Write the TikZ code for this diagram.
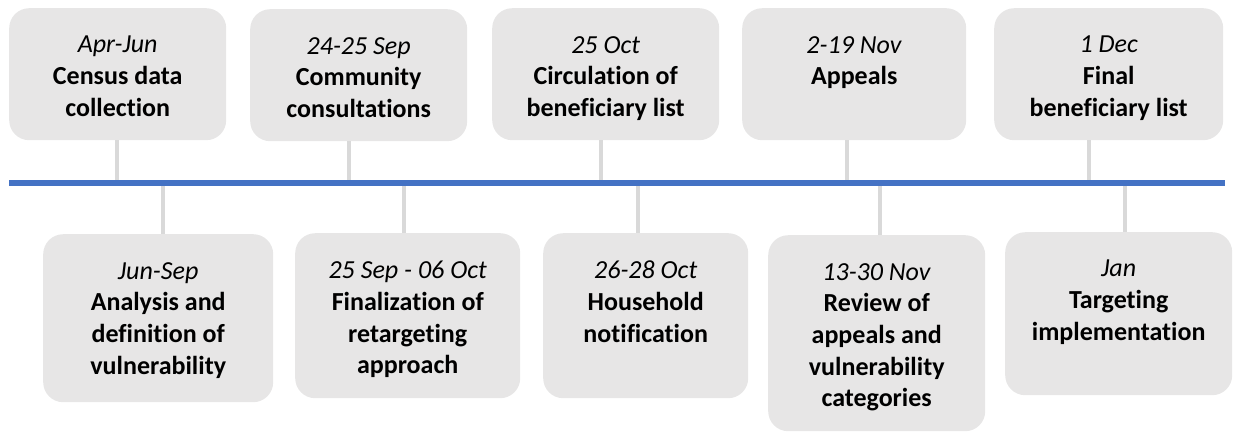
\documentclass[tikz,border=0pt]{standalone}
\usepackage{fontspec}
\setmainfont{Carlito}[Ligatures={NoCommon}]
\definecolor{boxfill}{HTML}{E7E6E6}
\definecolor{stemgray}{HTML}{D9D9D9}
\definecolor{axisblue}{HTML}{4472C4}
\begin{document}
\begin{tikzpicture}[x=1pt,y=-1pt,
  card/.style={fill=boxfill, draw=none, rounded corners=20pt, inner sep=0pt, anchor=north west},
  lbl/.style={anchor=north, inner sep=0pt, align=center, text=black,
              font=\fontsize{26}{31.7}\selectfont},
  stem/.style={draw=stemgray, line width=3.5pt},
  axis/.style={draw=axisblue, line width=6pt}]
\useasboundingbox (0,0) rectangle (1234,432);

% timeline anchor points
\coordinate (ax0) at (9,182.5);
\coordinate (ax1) at (1225,182.5);
\coordinate (t1) at (117,182.5);
\coordinate (t2) at (349,182.5);
\coordinate (t3) at (601,182.5);
\coordinate (t4) at (847,182.5);
\coordinate (t5) at (1089,182.5);
\coordinate (u1) at (163,182.5);
\coordinate (u2) at (404,182.5);
\coordinate (u3) at (638,182.5);
\coordinate (u4) at (880,182.5);
\coordinate (u5) at (1125,182.5);

% upper cards
\node[card, minimum width=217pt, minimum height=132pt] (b1) at (9,8) {};
\node[card, minimum width=217pt, minimum height=132pt] (b2) at (250,9) {};
\node[card, minimum width=227pt, minimum height=132pt] (b3) at (492,8) {};
\node[card, minimum width=224pt, minimum height=132pt] (b4) at (742,8) {};
\node[card, minimum width=229pt, minimum height=132pt] (b5) at (994,8) {};

% lower cards
\node[card, minimum width=230pt, minimum height=168pt] (b6) at (43,234) {};
\node[card, minimum width=225pt, minimum height=165pt] (b7) at (295,233) {};
\node[card, minimum width=205pt, minimum height=165pt] (b8) at (543,233) {};
\node[card, minimum width=217pt, minimum height=196pt] (b9) at (768,235) {};
\node[card, minimum width=227pt, minimum height=163pt] (b10) at (1005,232) {};

% stems
\draw[stem] (b1.south -| t1) -- (t1);
\draw[stem] (b2.south -| t2) -- (t2);
\draw[stem] (b3.south -| t3) -- (t3);
\draw[stem] (b4.south -| t4) -- (t4);
\draw[stem] (b5.south -| t5) -- (t5);
\draw[stem] (u1) -- (b6.north -| u1);
\draw[stem] (u2) -- (b7.north -| u2);
\draw[stem] (u3) -- (b8.north -| u3);
\draw[stem] (u4) -- (b9.north -| u4);
\draw[stem] (u5) -- (b10.north -| u5);

% axis
\draw[axis] (ax0) -- (ax1);

% labels
\node[lbl] (l1) at ([yshift=-28pt]b1.north) {\textit{Apr-Jun}\\\textbf{Census data}\\\textbf{collection}};
\node[lbl] (l2) at ([yshift=-28pt]b2.north) {\textit{24-25 Sep}\\\textbf{Community}\\\textbf{consultations}};
\node[lbl] (l3) at ([yshift=-28pt]b3.north) {\textit{25 Oct}\\\textbf{Circulation of}\\\textbf{beneficiary list}};
\node[lbl] (l4) at ([yshift=-28pt]b4.north) {\textit{2-19 Nov}\\\textbf{Appeals}};
\node[lbl] (l5) at ([yshift=-28pt]b5.north) {\textit{1 Dec}\\\textbf{Final}\\\textbf{beneficiary list}};
\node[lbl] (l6) at ([yshift=-28pt]b6.north) {\textit{Jun-Sep}\\\textbf{Analysis and}\\\textbf{definition of}\\\textbf{vulnerability}};
\node[lbl] (l7) at ([yshift=-28pt]b7.north) {\textit{25 Sep - 06 Oct}\\\textbf{Finalization of}\\\textbf{retargeting}\\\textbf{approach}};
\node[lbl] (l8) at ([yshift=-28pt]b8.north) {\textit{26-28 Oct}\\\textbf{Household}\\\textbf{notification}};
\node[lbl] (l9) at ([yshift=-28pt]b9.north) {\textit{13-30 Nov}\\\textbf{Review of}\\\textbf{appeals and}\\\textbf{vulnerability}\\\textbf{categories}};
\node[lbl] (l10) at ([yshift=-28pt]b10.north) {\textit{Jan}\\\textbf{Targeting}\\\textbf{implementation}};
\end{tikzpicture}
\end{document}
